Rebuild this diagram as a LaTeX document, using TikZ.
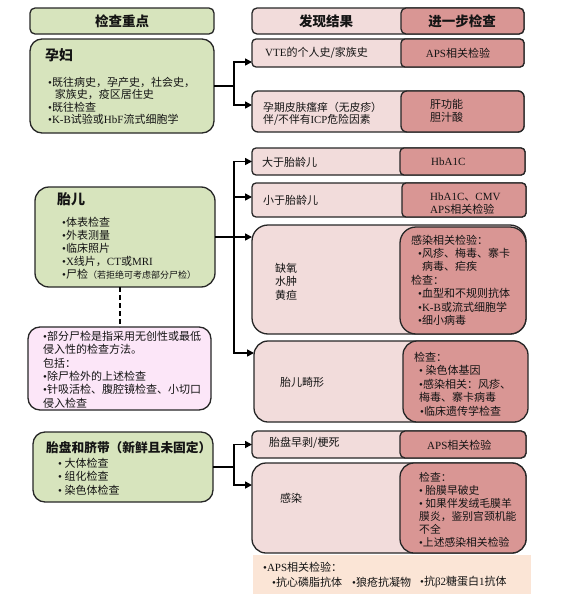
\documentclass[tikz,border=0pt]{standalone}
\usepackage{fontspec}
\setmainfont{Noto Sans CJK SC}
\newfontfamily\lat{Liberation Serif}
\usetikzlibrary{arrows.meta}
\definecolor{grn}{HTML}{D7E4BD}
\definecolor{lpk}{HTML}{F2DCDB}
\definecolor{dpk}{HTML}{D99694}
\definecolor{npk}{HTML}{FCE6F8}
\definecolor{pch}{HTML}{FBE5D6}
\definecolor{bd}{HTML}{262626}
\definecolor{tc}{HTML}{141414}
\newcommand\bu{{\lat •}}
\tikzset{
  box/.style={draw=bd, line width=1.3pt, anchor=north west, inner sep=0pt, outer sep=0pt},
  gbox/.style={box, fill=grn, rounded corners=12pt},
  lbox/.style={box, fill=lpk, rounded corners=5pt},
  dbox/.style={box, fill=dpk, rounded corners=5pt},
  txt/.style={inner sep=0pt, align=left, anchor=west, text=tc, font=\fontsize{11}{13}\selectfont},
  ttl/.style={txt, font=\bfseries\fontsize{14}{16}\selectfont},
  hdr/.style={inner sep=0pt, anchor=center, text=tc, font=\bfseries\fontsize{13.5}{15}\selectfont},
  conn/.style={draw=black, line width=1.6pt},
  arr/.style={conn, -{Triangle[length=7pt,width=7pt]}},
  dashline/.style={draw=black, line width=2pt, dash pattern=on 5pt off 3pt}
}
\begin{document}
\begin{tikzpicture}[x=1pt,y=-1pt]
\useasboundingbox (0,0) rectangle (571,597);
% headers
\node[gbox, rounded corners=5pt, minimum width=184pt, minimum height=26pt] (h1) at (30,8) {};
\node[lbox, minimum width=272pt, minimum height=26pt] (h2) at (252,8) {};
\node[dbox, minimum width=123pt, minimum height=26pt] (h3) at (401,8) {};
\node[hdr] (h1t) at (122,21) {检查重点};
\node[hdr] (h2t) at (326,21) {发现结果};
\node[hdr] (h3t) at (462,21) {进一步检查};

% pregnant woman
\node[gbox, minimum width=184pt, minimum height=94pt] (yunfu) at (30,39) {};
\node[ttl] (yft) at (45,55) {孕妇};
\node[txt, font=\fontsize{11}{12.5}\selectfont] (yfb) at (48,101) {\bu 既往病史，孕产史，社会史，\\\hspace*{0.6em}家族史，疫区居住史\\\bu 既往检查\\\bu{\lat K-B}试验或{\lat HbF}流式细胞学};

\node[lbox, rounded corners=4pt, minimum width=272pt, minimum height=28pt] (vte) at (252,39) {};
\node[dbox, rounded corners=4pt, minimum width=123pt, minimum height=28pt] (vteR) at (401,39) {};
\node[txt] (vtet) at (265,53) {{\lat VTE}的个人史/家族史};
\node[txt, anchor=center] (vteRt) at (458,53) {{\lat APS}相关检验};

\node[lbox, rounded corners=6pt, minimum width=272pt, minimum height=41pt] (itch) at (252,91) {};
\node[dbox, rounded corners=6pt, minimum width=123pt, minimum height=41pt] (itchR) at (401,91) {};
\node[txt, font=\fontsize{10.8}{12.5}\selectfont] (itcht) at (263,114) {孕期皮肤瘙痒（无皮疹）\\伴/不伴有{\lat ICP}危险因素};
\node[txt] (itchRt) at (430,111) {肝功能\\胆汁酸};

% fetus
\node[gbox, rounded corners=14pt, minimum width=180pt, minimum height=100pt] (fetus) at (35,187) {};
\node[ttl] (fet) at (57,199) {胎儿};
\node[txt] (feb) at (62,248) {\bu 体表检查\\\bu 外表测量\\\bu 临床照片\\\bu{\lat X}线片，{\lat CT}或{\lat MRI}\\\bu 尸检{\fontsize{9}{13}\selectfont（若拒绝可考虑部分尸检）}};

\node[lbox, rounded corners=4pt, minimum width=273pt, minimum height=27pt] (lga) at (252,148) {};
\node[dbox, rounded corners=4pt, minimum width=125pt, minimum height=27pt] (lgaR) at (400,148) {};
\node[txt] (lgat) at (262,162) {大于胎龄儿};
\node[txt] (lgaRt) at (431,162) {{\lat HbA1C}};

\node[lbox, rounded corners=4pt, minimum width=274pt, minimum height=34pt] (sga) at (252,183) {};
\node[dbox, rounded corners=4pt, minimum width=124pt, minimum height=34pt] (sgaR) at (402,183) {};
\node[txt] (sgat) at (263,200) {小于胎龄儿};
\node[txt] (sgaRt) at (430,203.5) {{\lat HbA1C}、{\lat CMV}\\{\lat APS}相关检验};

\node[lbox, rounded corners=16pt, minimum width=274pt, minimum height=109pt] (hyd) at (252,225) {};
\node[dbox, rounded corners=16pt, minimum width=126pt, minimum height=107pt] (hydR) at (400,227) {};
\node[txt, font=\fontsize{11}{13.5}\selectfont] (hydt) at (275,281.5) {缺氧\\水肿\\黄疸};
\node[txt, font=\fontsize{11}{13.4}\selectfont] (hydRt) at (411,280) {感染相关检验：\\\hspace*{7pt}\bu 风疹、梅毒、寨卡\\\hspace*{11pt}病毒、疟疾\\检查：\\\hspace*{7pt}\bu 血型和不规则抗体\\\hspace*{7pt}\bu{\lat K-B}或流式细胞学\\\hspace*{7pt}\bu 细小病毒};

% partial autopsy note
\node[box, fill=npk, rounded corners=12pt, minimum width=183pt, minimum height=83pt] (note) at (28,327) {};
\node[txt, font=\fontsize{11}{13.4}\selectfont] (notet) at (43,369.5) {\bu 部分尸检是指采用无创性或最低\\侵入性的检查方法。\\包括：\\\bu 除尸检外的上述检查\\\bu 针吸活检、腹腔镜检查、小切口\\侵入检查};

\node[lbox, rounded corners=14pt, minimum width=273pt, minimum height=81pt] (mal) at (254,341) {};
\node[dbox, rounded corners=14pt, minimum width=125pt, minimum height=81pt] (malR) at (403,341) {};
\node[txt] (malt) at (280,382) {胎儿畸形};
\node[txt, font=\fontsize{11}{13.5}\selectfont] (malRt) at (414,384) {检查：\\\hspace*{5pt}\bu~染色体基因\\\hspace*{5pt}\bu 感染相关：风疹、\\\hspace*{5pt}梅毒、寨卡病毒\\\hspace*{6pt}\bu 临床遗传学检查};

% placenta
\node[gbox, minimum width=180pt, minimum height=70pt] (plac) at (33,432) {};
\node[ttl, font=\bfseries\fontsize{12.7}{15}\selectfont] (plt) at (46,448) {胎盘和脐带（新鲜且未固定）};
\node[txt, font=\fontsize{11}{13.5}\selectfont] (plb) at (58,476.5) {\bu~大体检查\\\bu~组化检查\\\bu~染色体检查};

\node[lbox, rounded corners=5pt, minimum width=274pt, minimum height=27pt] (abr) at (252,431) {};
\node[dbox, rounded corners=5pt, minimum width=126pt, minimum height=27pt] (abrR) at (400,431) {};
\node[txt] (abrt) at (269,443) {胎盘早剥/梗死};
\node[txt] (abrRt) at (427,445) {{\lat APS}相关检验};

\node[lbox, rounded corners=14pt, minimum width=274pt, minimum height=90pt] (inf) at (252,463) {};
\node[dbox, rounded corners=14pt, minimum width=126pt, minimum height=90pt] (infR) at (400,463) {};
\node[txt] (inft) at (280,498) {感染};
\node[txt, font=\fontsize{10.8}{13}\selectfont] (infRt) at (419,509.5) {检查：\\\bu~胎膜早破史\\\bu~如果伴发绒毛膜羊\\膜炎，鉴别宫颈机能\\不全\\\bu 上述感染相关检验};

% APS note
\node[anchor=north west, fill=pch, inner sep=0pt, minimum width=278pt, minimum height=39pt] (aps) at (253,555) {};
\node[txt] (apst) at (263,567) {\bu{\lat APS}相关检验：};
\node[txt] (aps1) at (272,582) {\bu 抗心磷脂抗体};
\node[txt] (aps2) at (352,582) {\bu 狼疮抗凝物};
\node[txt] (aps3) at (420,582) {\bu 抗{\lat β2}糖蛋白{\lat 1}抗体};

% connectors
\coordinate (j1) at (234,86);
\draw[conn] (yunfu.east) -- (j1);
\draw[arr] (j1) |- ([yshift=-9pt]vte.west);
\draw[arr] (j1) |- ([yshift=6.5pt]itch.west);

\coordinate (j2) at (234,237);
\draw[conn] (fetus.east) -- (j2);
\draw[arr] (j2) |- (lga.west);
\draw[arr] (j2) |- ([yshift=3pt]sga.west);
\draw[arr] (j2) -- (j2 -| hyd.west);
\draw[arr] (j2) |- ([yshift=28.5pt]mal.west);

\coordinate (j3) at (234,467);
\draw[conn] (plac.east) -- (j3);
\draw[arr] (j3) |- (abr.west);
\draw[arr] (j3) |- ([yshift=23pt]inf.west);

\draw[dashline] (note.north |- fetus.south) -- (note.north);
\end{tikzpicture}
\end{document}
